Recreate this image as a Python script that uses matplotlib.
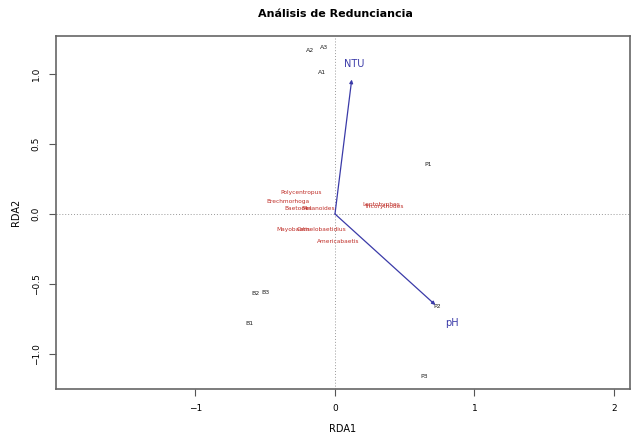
import matplotlib
matplotlib.use("Agg")
import matplotlib.pyplot as plt

# Site scores
site_labels = ["A1", "A2", "A3", "P1", "P2", "P3", "B1", "B2", "B3"]
site_x = [-0.09, -0.18, -0.08, 0.67, 0.73, 0.64, -0.61, -0.57, -0.50]
site_y = [1.01, 1.17, 1.19, 0.35, -0.66, -1.16, -0.78, -0.57, -0.56]

# Species scores
sp_labels = ["Polycentropus", "Brechmorhoga", "Baetodes", "Melanoides",
             "Leptohyphes", "Tricorythodes", "Mayobaetis", "Camelobaetidius",
             "Americabaetis"]
sp_x = [-0.24, -0.34, -0.26, -0.12, 0.33, 0.35, -0.30, -0.10, 0.02]
sp_y = [0.155, 0.09, 0.04, 0.04, 0.07, 0.05, -0.11, -0.11, -0.20]

# Environmental vectors
env_labels = ["NTU", "pH"]
env_x = [0.12, 0.72]
env_y = [0.96, -0.65]
env_lab_x = [0.14, 0.84]
env_lab_y = [1.07, -0.78]

xticks = [-1, 0, 1, 2]
yticks = [-1.0, -0.5, 0.0, 0.5, 1.0]

fig = plt.figure(figsize=(6.33, 4.36), dpi=100)
ax = fig.add_axes([56/633, 1-389/436, (630-56)/633, (389-36)/436])
ax.set_xlim(-2.0, 2.115)
ax.set_ylim(-1.25, 1.271)

ax.axhline(0, color="#999999", linestyle=(0, (1, 2)), linewidth=0.7, zorder=0)
ax.axvline(0, color="#999999", linestyle=(0, (1, 2)), linewidth=0.7, zorder=0)

for lab, x, y in zip(site_labels, site_x, site_y):
    ax.text(x, y, lab, fontsize=4.5, color="#222222", ha="center", va="center")

for lab, x, y in zip(sp_labels, sp_x, sp_y):
    ax.text(x, y, lab, fontsize=4.2, color="#c0302a", ha="center", va="center")

arrow_col = "#3a3aa8"
for lab, x, y, lx, ly in zip(env_labels, env_x, env_y, env_lab_x, env_lab_y):
    ax.annotate("", xy=(x, y), xytext=(0, 0),
                arrowprops=dict(arrowstyle="-|>", color=arrow_col, lw=0.9,
                                mutation_scale=5, shrinkA=0, shrinkB=0))
    ax.text(lx, ly, lab, fontsize=7, color=arrow_col, ha="center", va="center")

ax.set_xticks(xticks)
ax.set_xticklabels(["\u22121", "0", "1", "2"])
ax.set_yticks(yticks)
ax.set_yticklabels(["\u22121.0", "\u22120.5", "0.0", "0.5", "1.0"], rotation=90, va="center")
ax.tick_params(axis="both", labelsize=6.5, direction="out", length=5,
               color="#555555", width=0.8, pad=6)
for s in ax.spines.values():
    s.set_color("#666666")
    s.set_linewidth(1.2)

ax.set_xlabel("RDA1", fontsize=7, labelpad=8)
ax.set_ylabel("RDA2", fontsize=7, labelpad=8)
fig.text(335/633, 1-14/436, "Análisis de Redunciancia", fontsize=8,
         fontweight="bold", ha="center", va="center")

fig.savefig("out.png", dpi=100)
